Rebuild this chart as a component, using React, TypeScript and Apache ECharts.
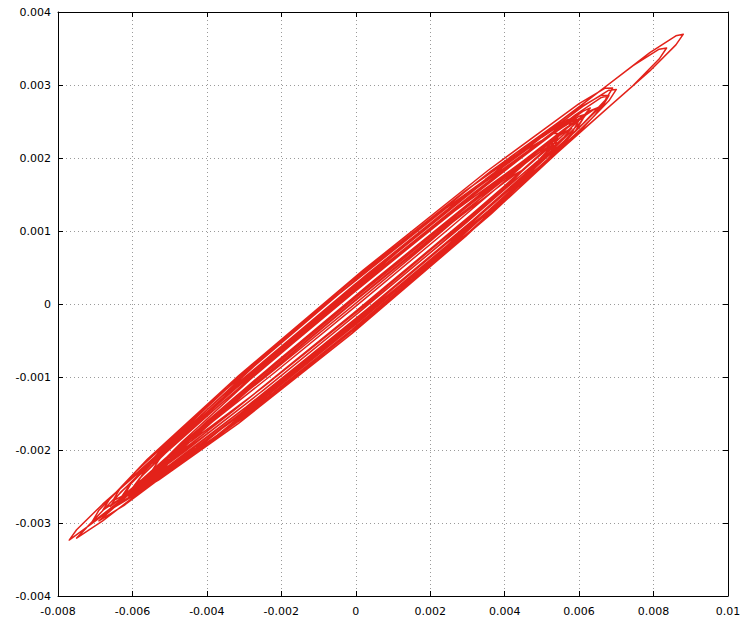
import React, { useEffect, useRef } from "react";
import * as echarts from "echarts";

// Trajectory values are read in thousandths (x 1e-3) of the plotted unit.
const UNIT = 0.001;

const X_MIN = -0.008;
const X_MAX = 0.01;
const X_STEP = 0.002;
const Y_MIN = -0.004;
const Y_MAX = 0.004;
const Y_STEP = 0.001;

const loop01 = [[-6.0,-2.52],[-5.8,-2.384],[-5.1,-2.038],[-2.95,-1.065],[0.1,0.242],[3.15,1.497],[5.3,2.33],[6.0,2.572],[6.2,2.604],[6.0,2.468],[5.3,2.122],[3.15,1.149],[0.1,-0.158],[-2.95,-1.413],[-5.1,-2.246],[-5.8,-2.488]];
const loop02 = [[-7.1,-3.0],[-6.9,-2.825],[-6.2,-2.458],[-3.58,-1.26],[-0.05,0.259],[3.48,1.706],[6.1,2.708],[6.8,2.929],[7.0,2.94],[6.8,2.783],[6.1,2.416],[3.48,1.218],[-0.05,-0.301],[-3.58,-1.748],[-6.2,-2.75],[-6.9,-2.971]];
const loop03 = [[-5.5,-2.34],[-5.3,-2.225],[-4.6,-1.9],[-2.68,-1.052],[0.15,0.153],[2.98,1.326],[4.9,2.09],[5.6,2.353],[5.8,2.406],[5.6,2.291],[4.9,1.966],[2.98,1.118],[0.15,-0.087],[-2.68,-1.26],[-4.6,-2.024],[-5.3,-2.287]];
const loop04 = [[-6.6,-2.772],[-6.4,-2.626],[-5.7,-2.269],[-2.75,-0.946],[1.1,0.702],[4.95,2.288],[7.9,3.443],[8.6,3.674],[8.8,3.696],[8.6,3.55],[7.9,3.193],[4.95,1.87],[1.1,0.222],[-2.75,-1.364],[-5.7,-2.519],[-6.4,-2.75]];
const loop05 = [[-7.7,-3.234],[-7.5,-3.093],[-6.8,-2.742],[-4.08,-1.523],[-0.45,0.031],[3.18,1.527],[5.9,2.592],[6.6,2.829],[6.8,2.856],[6.6,2.715],[5.9,2.364],[3.18,1.145],[-0.45,-0.409],[-4.08,-1.905],[-6.8,-2.97],[-7.5,-3.207]];
const loop06 = [[-6.5,-2.67],[-6.3,-2.503],[-5.6,-2.126],[-3.15,-0.985],[0.2,0.464],[3.55,1.829],[6.0,2.746],[6.7,2.957],[6.9,2.958],[6.7,2.791],[6.0,2.414],[3.55,1.273],[0.2,-0.176],[-3.15,-1.541],[-5.6,-2.458],[-6.3,-2.669]];
const loop07 = [[-5.0,-2.12],[-4.8,-2.015],[-4.1,-1.7],[-2.45,-0.979],[0.1,0.102],[2.65,1.163],[4.3,1.828],[5.0,2.101],[5.2,2.164],[5.0,2.059],[4.3,1.744],[2.65,1.023],[0.1,-0.058],[-2.45,-1.119],[-4.1,-1.784],[-4.8,-2.057]];
const loop08 = [[-6.3,-2.646],[-6.1,-2.494],[-5.4,-2.133],[-2.64,-0.883],[1.03,0.693],[4.69,2.196],[7.45,3.264],[8.15,3.491],[8.35,3.507],[8.15,3.355],[7.45,2.994],[4.69,1.744],[1.03,0.173],[-2.64,-1.335],[-5.4,-2.403],[-6.1,-2.63]];
const loop09 = [[-5.8,-2.476],[-5.6,-2.35],[-4.9,-2.015],[-2.73,-1.048],[0.35,0.267],[3.43,1.54],[5.6,2.395],[6.3,2.648],[6.5,2.69],[6.3,2.564],[5.6,2.229],[3.43,1.262],[0.35,-0.053],[-2.73,-1.326],[-4.9,-2.181],[-5.6,-2.434]];
const loop10 = [[-4.5,-1.86],[-4.3,-1.76],[-3.6,-1.451],[-2.18,-0.834],[0.15,0.153],[2.48,1.124],[3.9,1.699],[4.6,1.978],[4.8,2.046],[4.6,1.946],[3.9,1.637],[2.48,1.02],[0.15,0.033],[-2.18,-0.938],[-3.6,-1.513],[-4.3,-1.792]];
const loop11 = [[-6.2,-2.604],[-6.0,-2.426],[-5.3,-2.039],[-3.15,-1.01],[-0.1,0.318],[2.95,1.552],[5.1,2.329],[5.8,2.53],[6.0,2.52],[5.8,2.342],[5.1,1.955],[2.95,0.926],[-0.1,-0.402],[-3.15,-1.636],[-5.3,-2.413],[-6.0,-2.614]];
const loop12 = [[-5.2,-2.254],[-5.0,-2.123],[-4.3,-1.782],[-2.25,-0.858],[0.7,0.404],[3.65,1.62],[5.7,2.418],[6.4,2.665],[6.6,2.702],[6.4,2.571],[5.7,2.23],[3.65,1.306],[0.7,0.044],[-2.25,-1.172],[-4.3,-1.97],[-5.0,-2.217]];
const loop13 = [[-6.8,-2.826],[-6.6,-2.664],[-5.9,-2.292],[-3.73,-1.276],[-0.65,0.057],[2.43,1.312],[4.6,2.118],[5.3,2.334],[5.5,2.34],[5.3,2.178],[4.6,1.806],[2.43,0.79],[-0.65,-0.543],[-3.73,-1.798],[-5.9,-2.604],[-6.6,-2.82]];
const loop14 = [[-4.8,-2.066],[-4.6,-1.956],[-3.9,-1.636],[-2.48,-1.005],[-0.15,-0.013],[2.18,0.953],[3.6,1.514],[4.3,1.782],[4.5,1.84],[4.3,1.73],[3.6,1.41],[2.18,0.779],[-0.15,-0.213],[-2.48,-1.179],[-3.9,-1.74],[-4.6,-2.008]];
const loop15 = [[-5.9,-2.478],[-5.7,-2.306],[-5.0,-1.923],[-2.73,-0.851],[0.45,0.529],[3.63,1.821],[5.9,2.655],[6.6,2.86],[6.8,2.856],[6.6,2.684],[5.9,2.301],[3.63,1.229],[0.45,-0.151],[-2.73,-1.443],[-5.0,-2.277],[-5.7,-2.482]];
const loop16 = [[-6.5,-2.69],[-6.3,-2.57],[-5.6,-2.239],[-3.3,-1.224],[-0.1,0.138],[3.1,1.464],[5.4,2.381],[6.1,2.638],[6.3,2.686],[6.1,2.566],[5.4,2.235],[3.1,1.22],[-0.1,-0.142],[-3.3,-1.468],[-5.6,-2.385],[-6.3,-2.642]];
const loop17 = [[-5.6,-2.412],[-5.4,-2.263],[-4.7,-1.904],[-2.85,-1.039],[-0.1,0.148],[2.65,1.271],[4.5,1.96],[5.2,2.189],[5.4,2.208],[5.2,2.059],[4.5,1.7],[2.65,0.835],[-0.1,-0.352],[-2.85,-1.475],[-4.7,-2.164],[-5.4,-2.393]];
const loop18 = [[-4.2,-1.704],[-4.0,-1.607],[-3.3,-1.3],[-2.15,-0.799],[-0.1,0.068],[1.95,0.923],[3.1,1.388],[3.8,1.669],[4.0,1.74],[3.8,1.643],[3.1,1.336],[1.95,0.835],[-0.1,-0.032],[-2.15,-0.887],[-3.3,-1.352],[-4.0,-1.633]];
const loop19 = [[-6.0,-2.55],[-5.8,-2.388],[-5.1,-2.016],[-2.98,-1.021],[0.05,0.291],[3.08,1.525],[5.2,2.31],[5.9,2.526],[6.1,2.532],[5.9,2.37],[5.2,1.998],[3.08,1.003],[0.05,-0.309],[-2.98,-1.543],[-5.1,-2.328],[-5.8,-2.544]];
const loop20 = [[-5.3,-2.146],[-5.1,-2.01],[-4.4,-1.664],[-2.5,-0.796],[0.3,0.406],[3.1,1.556],[5.0,2.284],[5.7,2.526],[5.9,2.558],[5.7,2.422],[5.0,2.076],[3.1,1.208],[0.3,0.006],[-2.5,-1.144],[-4.4,-1.872],[-5.1,-2.108]];

const LOOPS = [loop01, loop02, loop03, loop04, loop05, loop06, loop07, loop08, loop09, loop10,
  loop11, loop12, loop13, loop14, loop15, loop16, loop17, loop18, loop19, loop20];

const LINE_COLOR = "#e3221a";
const FONT = "DejaVu Sans";

export default function App() {
  const ref = useRef<HTMLDivElement>(null);

  useEffect(() => {
    if (!ref.current) return;
    const chart = echarts.init(ref.current, undefined, { renderer: "svg" });
    const pts = LOOPS.flat().concat([loop01[0]]).map(([x, y]) => [x * UNIT, y * UNIT]);

    const axisLine = { show: true, onZero: false, lineStyle: { color: "#000", width: 1 } };
    const axisTick = { show: true, inside: true, length: 5, lineStyle: { color: "#000", width: 1 } };
    const splitLine = { show: true, lineStyle: { color: "#9a9a9a", width: 1, type: [1, 3] as any } };
    const label = { color: "#000", fontFamily: FONT, fontSize: 11 };

    chart.setOption({
      animation: false,
      backgroundColor: "#fff",
      grid: { left: 58, right: 19, top: 12, bottom: 31, containLabel: false },
      xAxis: [
        {
          type: "value", min: X_MIN, max: X_MAX, interval: X_STEP, position: "bottom",
          axisLine, axisTick, splitLine,
          axisLabel: { ...label, margin: 10 },
        },
        {
          type: "value", min: X_MIN, max: X_MAX, interval: X_STEP, position: "top",
          axisLine, axisTick, splitLine: { show: false }, axisLabel: { show: false },
        },
      ],
      yAxis: [
        {
          type: "value", min: Y_MIN, max: Y_MAX, interval: Y_STEP, position: "left",
          axisLine, axisTick, splitLine,
          axisLabel: { ...label, margin: 7 },
        },
        {
          type: "value", min: Y_MIN, max: Y_MAX, interval: Y_STEP, position: "right",
          axisLine, axisTick, splitLine: { show: false }, axisLabel: { show: false },
        },
      ],
      series: [
        {
          type: "line",
          xAxisIndex: 0,
          yAxisIndex: 0,
          data: pts,
          showSymbol: false,
          smooth: false,
          lineStyle: { color: LINE_COLOR, width: 1.5, join: "round" },
        },
      ],
    });
    return () => chart.dispose();
  }, []);

  return <div ref={ref} style={{ position: "fixed", left: 0, top: 0, width: 747, height: 627 }} />;
}
